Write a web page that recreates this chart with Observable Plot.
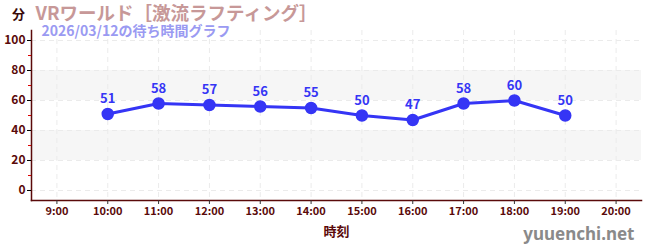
<!DOCTYPE html>
<html><head><meta charset="utf-8">
<script src="https://cdn.jsdelivr.net/npm/d3@7"></script>
<script src="https://cdn.jsdelivr.net/npm/@observablehq/plot@0.6"></script>
<style>body{margin:0;background:#fff;font-family:"Noto Sans CJK JP","Noto Sans",sans-serif}</style>
</head><body><div id="chart"></div>
<script>
const hours = [10, 11, 12, 13, 14, 15, 16, 17, 18, 19];
const waits = [51, 58, 57, 56, 55, 50, 47, 58, 60, 50];
const xTicks = [9, 10, 11, 12, 13, 14, 15, 16, 17, 18, 19, 20];
const yTicks = [0, 20, 40, 60, 80, 100];
const yMinor = [10, 30, 50, 70, 90];
const bands = [[20, 40], [60, 80]];
const title = "VRワールド［激流ラフティング］";
const subtitle = "2026/03/12の待ち時間グラフ";
const yLabel = "分";
const xLabel = "時刻";
const watermark = "yuuenchi.net";

const data = hours.map((h, i) => ({h, v: waits[i]}));
const axisColor = "#5a0a0a";
const lineColor = "#3535f5";
const font = '"Noto Sans CJK JP", sans-serif';

const chart = Plot.plot({
  width: 650, height: 250,
  marginLeft: 31, marginRight: 9, marginTop: 30, marginBottom: 50,
  style: {fontFamily: font, background: "#fff"},
  x: {domain: [8.5, 20.5], axis: null},
  y: {domain: [-6.67, 106.67], axis: null},
  marks: [
    Plot.rectY(bands, {y1: d => d[0], y2: d => d[1], fill: "#f6f6f6"}),
    Plot.gridY(yTicks, {stroke: "#ebebeb", strokeOpacity: 1, strokeDasharray: "5,4"}),
    Plot.gridX(xTicks, {stroke: "#ebebeb", strokeOpacity: 1, strokeDasharray: "5,4"}),
    Plot.frame({anchor: "left", stroke: axisColor, strokeWidth: 1.5}),
    Plot.frame({anchor: "bottom", stroke: axisColor, strokeWidth: 1.5}),
    Plot.axisY(yTicks, {label: null, tickSize: 4, tickPadding: 2, stroke: "#000", fill: axisColor, fontSize: 12, fontWeight: "bold", tickFormat: d => d}),
    Plot.axisY(yMinor, {label: null, tickSize: 3, text: null, stroke: "#d00"}),
    Plot.axisX(xTicks, {label: null, tickSize: 4, tickPadding: 3, stroke: "#333", fill: axisColor, fontSize: 11, fontWeight: "bold", tickFormat: d => `${d}:00`}),
    Plot.line(data, {x: "h", y: "v", stroke: lineColor, strokeWidth: 3}),
    Plot.dot(data, {x: "h", y: "v", r: 5.5, fill: lineColor, stroke: lineColor}),
    Plot.text(data, {x: "h", y: "v", text: d => String(d.v), dy: -15, fill: lineColor, fontSize: 13, fontWeight: "bold"}),
    Plot.text([yLabel], {frameAnchor: "top-left", lineAnchor: "middle", text: d => d, dx: -13, dy: -16, fill: "#3a0a0a", fontSize: 13, fontWeight: "bold", textAnchor: "middle"}),
    Plot.text([title], {frameAnchor: "top-left", lineAnchor: "middle", text: d => d, dx: 4, dy: -16, fill: "#c79898", fontSize: 18.5, fontWeight: "bold", textAnchor: "start"}),
    Plot.text([subtitle], {frameAnchor: "top-left", lineAnchor: "middle", text: d => d, dx: 10, dy: 1, fill: "#9a9af2", fontSize: 14, fontWeight: "bold", textAnchor: "start"}),
    Plot.text([xLabel], {frameAnchor: "bottom", lineAnchor: "middle", text: d => d, dy: 31, fill: axisColor, fontSize: 13, fontWeight: "bold"}),
    Plot.text([watermark], {frameAnchor: "bottom-right", lineAnchor: "middle", text: d => d, dx: -7, dy: 34, fill: "#8a8a8a", fontSize: 17, fontWeight: "bold", textAnchor: "end", fontFamily: '"Noto Sans", sans-serif'})
  ]
});
document.getElementById("chart").appendChild(chart);
</script>
</body></html>
